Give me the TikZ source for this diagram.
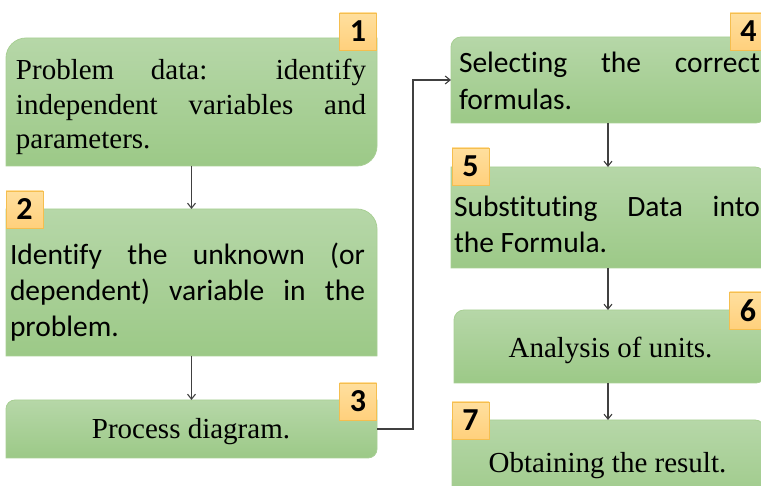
\documentclass[tikz,border=0pt]{standalone}
\usepackage{fontspec}
\setmainfont{Liberation Serif}
\newfontfamily\calib[Ligatures=NoCommon]{Carlito}
\usetikzlibrary{arrows.meta,calc,backgrounds}
\definecolor{gtop}{HTML}{B6D7A8}
\definecolor{gbot}{HTML}{9CC987}
\definecolor{gline}{HTML}{A8CF94}
\definecolor{btop}{HTML}{FFDF9E}
\definecolor{bbot}{HTML}{FFD07C}
\definecolor{bline}{HTML}{F5BE4F}
\definecolor{conn}{HTML}{404040}
\tikzset{
  boxnode/.style={draw=none,inner sep=0pt,outer sep=0pt,rectangle},
  boxfill/.style={top color=gtop,bottom color=gbot,draw=gline,line width=0.8pt},
  badge/.style={draw=bline,line width=0.8pt,top color=btop,bottom color=bbot,
    minimum width=37pt,minimum height=37pt,inner sep=0pt,
    font=\calib\bfseries\fontsize{32}{32}\selectfont},
  jtxt/.style={inner sep=0pt,align=justify},
  serif/.style={font=\fontsize{29}{34.5}\selectfont},
  sans/.style={font=\calib\fontsize{29.5}{36.3}\selectfont},
  conline/.style={draw=conn,line width=1.1pt,-{Straight Barb[length=5pt,width=8pt]}},
}
\newcommand\roundbox[5]{%
  \path[boxfill] ($(#1.south west)+(0pt,#5pt)$) -- ($(#1.north west)+(0pt,-#2pt)$)
    arc[start angle=180,end angle=90,radius=#2pt] -- ($(#1.north east)+(-#3pt,0pt)$)
    arc[start angle=90,end angle=0,radius=#3pt] -- ($(#1.south east)+(0pt,#4pt)$)
    arc[start angle=0,end angle=-90,radius=#4pt] -- ($(#1.south west)+(#5pt,0pt)$)
    arc[start angle=270,end angle=180,radius=#5pt] -- cycle;}
\begin{document}
\begin{tikzpicture}[x=1pt,y=1pt]
\useasboundingbox (0,0) rectangle (761,486);
% box nodes
\node[boxnode,minimum width=371pt,minimum height=128pt] (b1) at (191.5,384) {};
\node[boxnode,minimum width=371pt,minimum height=147pt] (b2) at (191.5,203.5) {};
\node[boxnode,minimum width=371pt,minimum height=58pt] (b3) at (191.5,57) {};
\node[boxnode,minimum width=314pt,minimum height=86pt] (b4) at (608,406) {};
\node[boxnode,minimum width=314pt,minimum height=101pt] (b5) at (608,268.5) {};
\node[boxnode,minimum width=311pt,minimum height=73pt] (b6) at (609.5,139.5) {};
\node[boxnode,minimum width=313pt,minimum height=90pt] (b7) at (608.5,21) {};
\begin{pgfonlayer}{background}
\roundbox{b1}{20}{0.01}{20}{0.01}
\roundbox{b2}{0.01}{20}{0.01}{0.01}
\roundbox{b3}{9}{0.01}{9}{0.01}
\roundbox{b4}{10}{0.01}{9}{0.01}
\roundbox{b5}{0.01}{10}{0.01}{0.01}
\roundbox{b6}{10}{0.01}{9}{0.01}
\roundbox{b7}{0.01}{10}{0.01}{0.01}
\end{pgfonlayer}
% texts
\node[jtxt,serif,text width=350pt] (t1) at (191,379) {Problem data: identify\linebreak independent variables and\linebreak parameters.};
\node[jtxt,sans,text width=355pt] (t2) at (187.5,194) {Identify the unknown (or\linebreak dependent) variable in the\linebreak problem.};
\node[serif,inner sep=0pt] (t3) at (191,54) {Process diagram.};
\node[jtxt,sans,text width=301pt] (t4) at (609.5,405) {Selecting the correct\linebreak formulas.};
\node[jtxt,sans,text width=306pt] (t5) at (607,261.5) {Substituting Data into\linebreak the Formula.};
\node[serif,inner sep=0pt] (t6) at (610.5,136) {Analysis of units.};
\node[serif,inner sep=0pt] (t7) at (607.5,20) {Obtaining the result.};
% badges
\node[badge] (n1) at (358,454.5) {1};
\node[badge] (n2) at (24.5,276.5) {2};
\node[badge] (n3) at (358,84.5) {3};
\node[badge] (n4) at (748.5,454.5) {4};
\node[badge] (n5) at (470.5,319.5) {5};
\node[badge] (n6) at (748,175.5) {6};
\node[badge] (n7) at (470.5,65.5) {7};
% connectors
\draw[conline] (b1.south) -- (b2.north);
\draw[conline] (b2.south) -- (b3.north);
\draw[conline] (b3.east) -- ++(36,0) |- (b4.west);
\draw[conline] (b4.south) -- (b4.south |- b5.north);
\draw[conline] (b5.south) -- (b5.south |- b6.north);
\draw[conline] (b5.south |- b6.south) -- (b5.south |- b7.north);
\end{tikzpicture}
\end{document}
